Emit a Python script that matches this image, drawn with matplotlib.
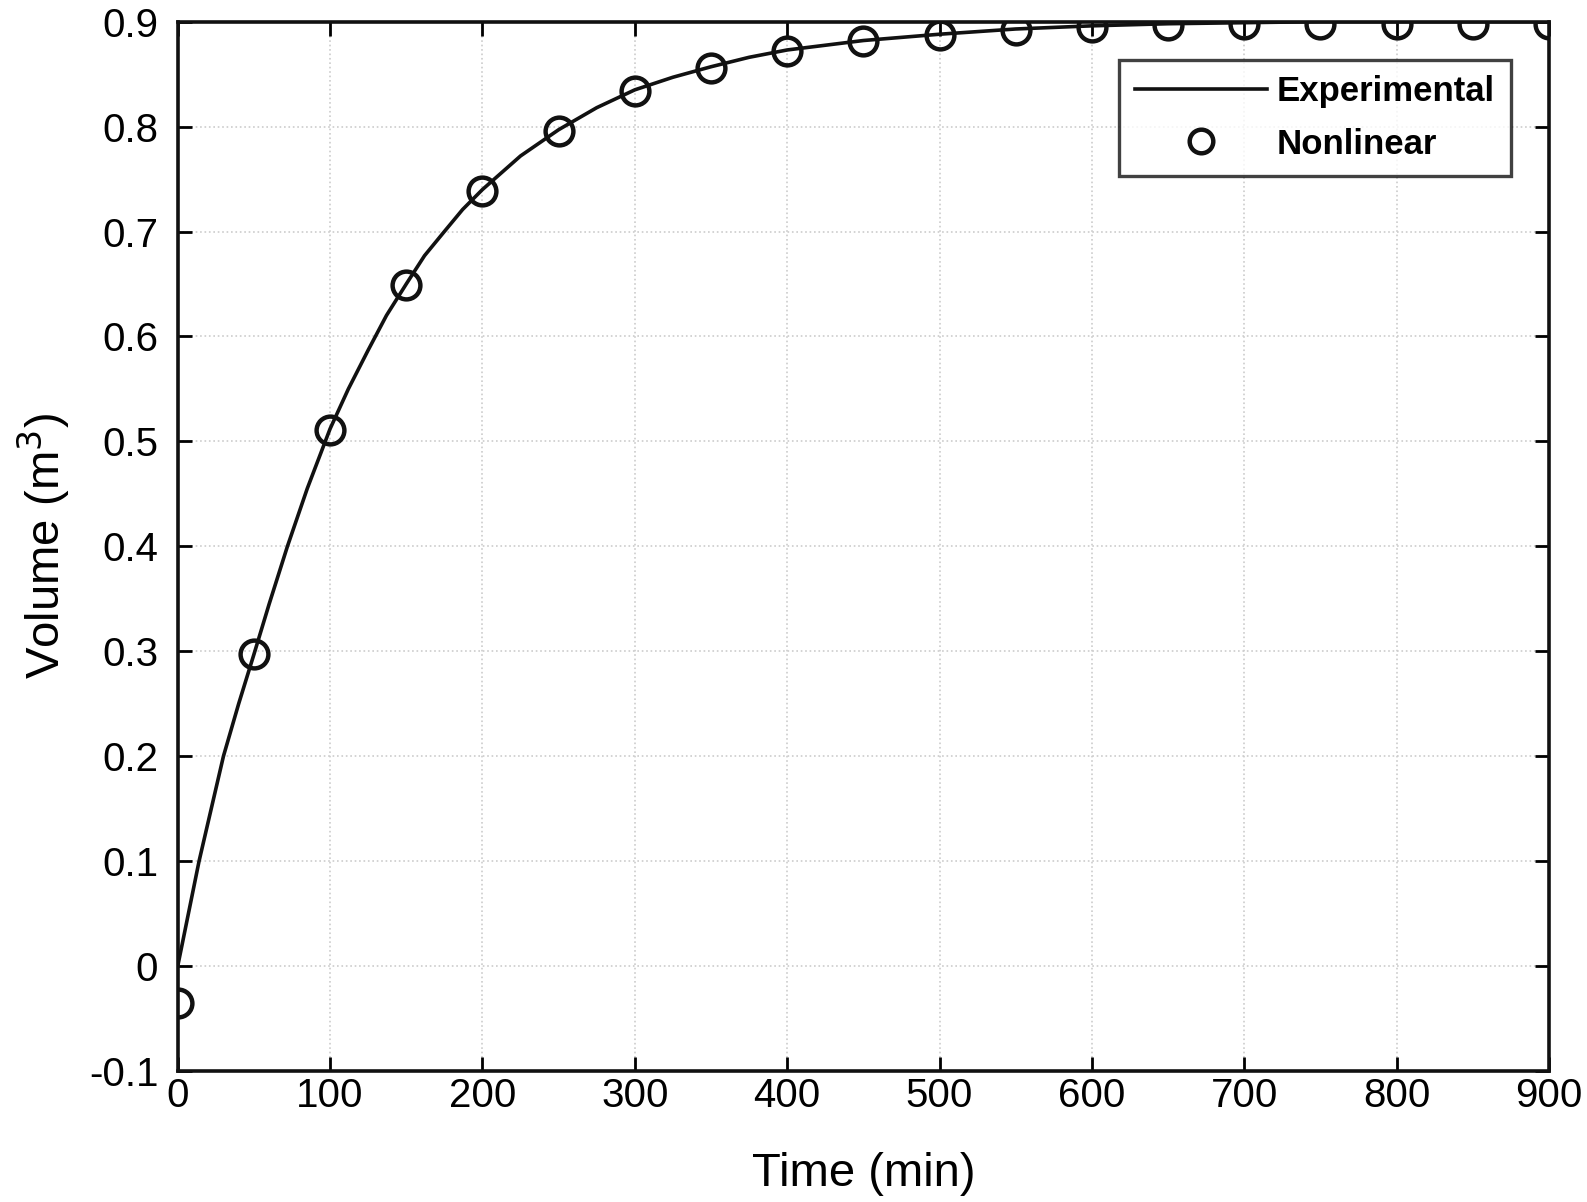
import matplotlib
matplotlib.use('Agg')
import matplotlib.pyplot as plt

# experimental curve
t_exp = [0, 7, 14, 22, 30, 40, 50, 60, 72, 85, 100, 112, 125, 137, 150,
         162, 175, 187, 200, 225, 250, 275, 300, 325, 350, 375, 400, 450,
         500, 550, 600, 650, 700, 750, 800, 850, 900]
v_exp = [0.0, 0.05, 0.1, 0.15, 0.2, 0.25, 0.297, 0.345, 0.4, 0.455, 0.512,
         0.55, 0.587, 0.62, 0.65, 0.677, 0.70, 0.721, 0.74, 0.772, 0.797,
         0.818, 0.835, 0.847, 0.857, 0.866, 0.873, 0.882, 0.888, 0.893,
         0.896, 0.898, 0.899, 0.9, 0.9, 0.9, 0.9]

# nonlinear model points
t_nl = [0, 50, 100, 150, 200, 250, 300, 350, 400, 450, 500, 550, 600, 650,
        700, 750, 800, 850, 900]
v_nl = [-0.035, 0.297, 0.511, 0.649, 0.739, 0.796, 0.834, 0.856, 0.872,
        0.882, 0.887, 0.892, 0.895, 0.897, 0.898, 0.898, 0.898, 0.898, 0.898]

xticks = [0, 100, 200, 300, 400, 500, 600, 700, 800, 900]
yticks = [-0.1, 0, 0.1, 0.2, 0.3, 0.4, 0.5, 0.6, 0.7, 0.8, 0.9]
ylabels = ['-0.1', '0', '0.1', '0.2', '0.3', '0.4', '0.5', '0.6', '0.7', '0.8', '0.9']

plt.rcParams['font.family'] = ['Liberation Sans', 'DejaVu Sans']

fig = plt.figure(figsize=(15.87, 12.02), dpi=100)
ax = fig.add_axes([0.112, 0.109, 0.864, 0.873])

ax.plot(t_exp, v_exp, color='#111111', lw=2.6, label='Experimental')
ax.plot(t_nl, v_nl, 'o', ms=20, mfc='none', mec='#111111', mew=3.2, label='Nonlinear')

ax.set_xlim(0, 900)
ax.set_ylim(-0.1, 0.9)
ax.set_xticks(xticks)
ax.set_yticks(yticks)
ax.set_yticklabels(ylabels)
ax.tick_params(direction='in', length=10, width=2, top=True, right=True,
               labelsize=29)
ax.tick_params(axis='x', pad=4)
ax.tick_params(axis='y', pad=14)
ax.grid(True, linestyle=':', color='#cccccc', lw=1.2)
for s in ax.spines.values():
    s.set_linewidth(2.6)
    s.set_color('#111111')

ax.set_xlabel('Time (min)', fontsize=34, labelpad=27)
ax.set_ylabel('Volume (m$^3$)', fontsize=34, labelpad=12)

leg = ax.legend(loc='upper right', frameon=True, fancybox=False,
                borderaxespad=1.1, handlelength=3.8, handletextpad=0.3,
                borderpad=0.45, labelspacing=0.55, markerscale=0.85,
                prop={'weight': 'bold', 'size': 25})
leg.get_frame().set_edgecolor('#111111')
leg.get_frame().set_linewidth(2.4)

fig.savefig('out.png', dpi=100)
